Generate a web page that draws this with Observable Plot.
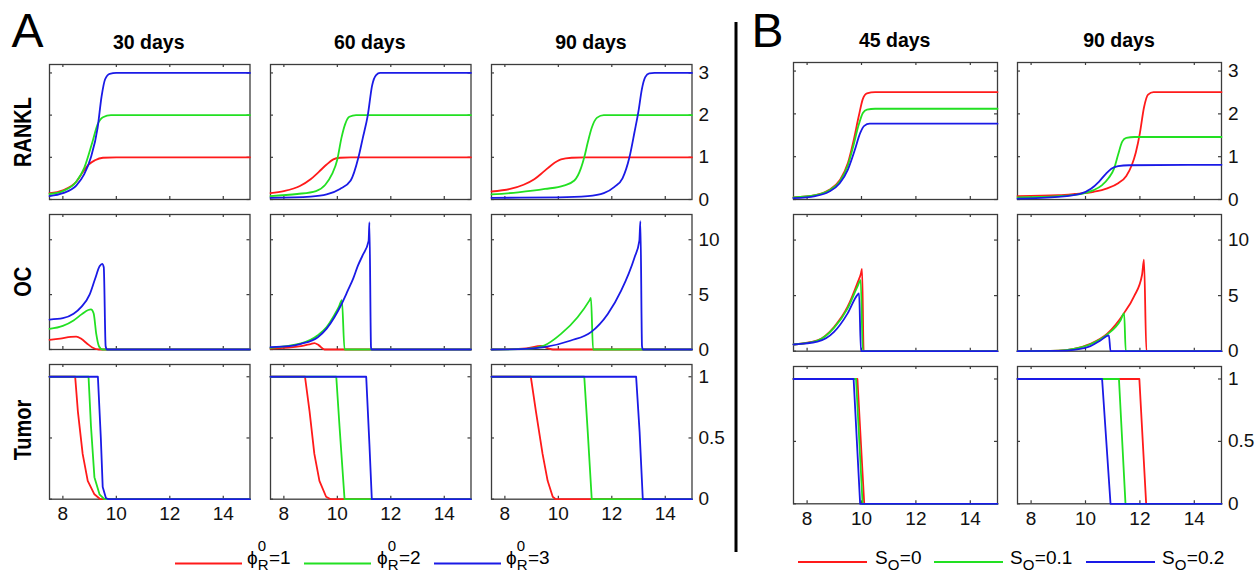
<!DOCTYPE html>
<html><head><meta charset="utf-8">
<script src="https://cdn.jsdelivr.net/npm/d3@7"></script>
<script src="https://cdn.jsdelivr.net/npm/@observablehq/plot@0.6"></script>
<style>
html,body{margin:0;padding:0;background:#fff;}
#wrap{position:relative;width:1258px;height:573px;overflow:hidden;background:#fff;font-family:"Liberation Sans",Arial,sans-serif;}
#wrap svg{position:absolute;overflow:visible;}
</style></head><body><div id="wrap"></div>
<script>
// ---------------- data ----------------
const xDomain = [7.5, 15];
const xTicks = [8, 10, 12, 14];
const rowNames = ["RANKL", "OC", "Tumor"];
const yDomains = [[0, 3.2], [0, 12.3], [0, 1.1]];
const yTickValues = [[0, 1, 2, 3], [0, 5, 10], [0, 0.5, 1]];
const titlesA = ["30 days", "60 days", "90 days"];
const titlesB = ["45 days", "90 days"];
const phiValues = ["1", "2", "3"];
const sOValues = ["0", "0.1", "0.2"];
const seriesColors = ["#ff1a1a", "#22e022", "#1a1ae6"];

// Panel A, 30 days
const A30_RANKL_phi1 = [[7.5,0.15],[8.0,0.22],[8.5,0.42],[8.75,0.65],[8.95,0.82],[9.2,0.93],[9.5,0.99],[10,1.0],[15,1.0]];
const A30_RANKL_phi2 = [[7.5,0.13],[8.0,0.2],[8.5,0.42],[8.8,0.75],[9.1,1.35],[9.3,1.78],[9.5,1.95],[9.8,2.0],[15,2.0]];
const A30_RANKL_phi3 = [[7.5,0.08],[8.0,0.15],[8.5,0.33],[8.8,0.6],[9.05,1.0],[9.3,1.7],[9.45,2.45],[9.58,2.85],[9.75,2.98],[10.0,3.0],[15,3.0]];
const A30_OC_phi1 = [[7.5,0.88],[7.9,1.0],[8.3,1.15],[8.5,1.18],[8.7,0.95],[8.9,0.55],[9.1,0.18],[9.35,0],[15,0]];
const A30_OC_phi2 = [[7.5,1.88],[8.0,2.15],[8.4,2.65],[8.7,3.2],[8.95,3.6],[9.05,3.65],[9.15,3.3],[9.25,1.4],[9.35,0.3],[9.48,0],[15,0]];
const A30_OC_phi3 = [[7.5,2.73],[8.0,2.85],[8.4,3.25],[8.7,3.9],[9.0,5.0],[9.2,6.4],[9.38,7.6],[9.47,7.8],[9.53,7.5],[9.6,0.3],[9.65,0],[15,0]];
const A30_Tumor_phi1 = [[7.5,1],[8.46,1],[8.56,0.72],[8.74,0.37],[8.93,0.15],[9.18,0.04],[9.4,0],[15,0]];
const A30_Tumor_phi2 = [[7.5,1],[8.96,1],[9.05,0.6],[9.18,0.18],[9.37,0.04],[9.55,0],[15,0]];
const A30_Tumor_phi3 = [[7.5,1],[9.31,1],[9.42,0.5],[9.49,0.1],[9.61,0.01],[9.7,0],[15,0]];

// Panel A, 60 days
const A60_RANKL_phi1 = [[7.5,0.15],[8.0,0.2],[8.6,0.32],[9.0,0.48],[9.3,0.65],[9.6,0.83],[9.85,0.95],[10.1,0.99],[10.5,1.0],[15,1.0]];
const A60_RANKL_phi2 = [[7.5,0.08],[8.5,0.13],[9.2,0.2],[9.55,0.35],[9.8,0.6],[10.0,0.95],[10.15,1.45],[10.3,1.8],[10.45,1.96],[10.7,2.0],[15,2.0]];
const A60_RANKL_phi3 = [[7.5,0.04],[9.0,0.07],[9.6,0.12],[10.1,0.25],[10.5,0.45],[10.79,1.0],[10.95,1.45],[11.14,2.0],[11.3,2.7],[11.45,2.95],[11.6,3.0],[15,3.0]];
const A60_OC_phi1 = [[7.5,0.08],[8.64,0.3],[9.0,0.5],[9.14,0.58],[9.3,0.4],[9.52,0],[15,0]];
const A60_OC_phi2 = [[7.5,0.15],[8.64,0.55],[9.27,1.3],[9.6,2.05],[9.89,3.15],[10.05,3.85],[10.17,4.5],[10.27,0],[15,0]];
const A60_OC_phi3 = [[7.5,0.21],[8.2,0.3],[8.64,0.52],[9.27,1.12],[9.6,1.9],[9.89,2.94],[10.15,4.1],[10.39,5.36],[10.6,6.5],[10.77,7.64],[10.95,8.6],[11.17,9.9],[11.2,11.6],[11.26,0.2],[11.28,0],[15,0]];
const A60_Tumor_phi1 = [[7.5,1],[8.79,1],[8.96,0.72],[9.14,0.37],[9.33,0.15],[9.58,0.02],[9.75,0],[15,0]];
const A60_Tumor_phi2 = [[7.5,1],[9.96,1],[10.08,0.6],[10.27,0],[15,0]];
const A60_Tumor_phi3 = [[7.5,1],[11.08,1],[11.2,0.45],[11.29,0],[15,0]];

// Panel A, 90 days
const A90_RANKL_phi1 = [[7.5,0.19],[8.2,0.25],[8.7,0.35],[9.1,0.48],[9.45,0.66],[9.75,0.82],[10.1,0.95],[10.5,0.99],[11,1.0],[15,1.0]];
const A90_RANKL_phi2 = [[7.5,0.12],[8.5,0.17],[9.5,0.25],[10.2,0.33],[10.6,0.45],[10.85,0.75],[10.97,1.0],[11.1,1.35],[11.25,1.7],[11.45,1.94],[11.7,2.0],[15,2.0]];
const A90_RANKL_phi3 = [[7.5,0.04],[10,0.05],[11.1,0.08],[11.7,0.15],[12.1,0.3],[12.4,0.5],[12.66,1.0],[12.85,1.6],[13.0,2.1],[13.12,2.6],[13.25,2.9],[13.4,2.99],[13.6,3.0],[15,3.0]];
const A90_OC_phi1 = [[7.5,0],[8.8,0.1],[9.35,0.33],[9.6,0.12],[9.8,0],[15,0]];
const A90_OC_phi2 = [[7.5,0],[8.8,0.05],[9.47,0.36],[10.1,1.42],[10.72,2.94],[11.16,4.45],[11.22,4.7],[11.3,0],[15,0]];
const A90_OC_phi3 = [[7.5,0],[8.6,0.03],[9.47,0.21],[10.47,0.82],[11.22,1.58],[11.85,3.24],[12.35,5.36],[12.85,8.39],[13.03,9.9],[13.07,11.7],[13.13,0.3],[13.16,0],[15,0]];
const A90_Tumor_phi1 = [[7.5,1],[8.97,1],[9.16,0.72],[9.41,0.37],[9.6,0.15],[9.79,0.02],[9.9,0],[15,0]];
const A90_Tumor_phi2 = [[7.5,1],[10.97,1],[11.1,0.55],[11.25,0],[15,0]];
const A90_Tumor_phi3 = [[7.5,1],[12.91,1],[13.04,0.55],[13.16,0],[15,0]];

// Panel B, 45 days
const B45_RANKL_S0 = [[7.5,0.05],[8.3,0.1],[8.8,0.22],[9.2,0.45],[9.5,0.85],[9.7,1.35],[9.9,1.95],[10.05,2.35],[10.2,2.48],[10.5,2.51],[15,2.51]];
const B45_RANKL_S01 = [[7.5,0.05],[8.3,0.1],[8.8,0.21],[9.2,0.42],[9.5,0.8],[9.7,1.25],[9.9,1.75],[10.05,2.02],[10.2,2.1],[10.5,2.12],[15,2.12]];
const B45_RANKL_S02 = [[7.5,0.03],[8.3,0.08],[8.8,0.18],[9.2,0.38],[9.5,0.7],[9.75,1.15],[9.95,1.55],[10.1,1.72],[10.3,1.77],[15,1.77]];
const B45_OC_S0 = [[7.5,0.6],[8.38,0.97],[8.99,2.18],[9.49,4.0],[9.85,6.13],[9.98,7.0],[10.02,7.4],[10.08,0],[15,0]];
const B45_OC_S01 = [[7.5,0.6],[8.38,0.95],[8.99,2.1],[9.49,3.85],[9.85,5.8],[9.97,6.4],[10.05,0],[15,0]];
const B45_OC_S02 = [[7.5,0.6],[8.38,0.85],[8.99,1.73],[9.49,3.4],[9.85,5.06],[9.91,5.2],[9.98,0],[15,0]];
const B45_Tumor_S0 = [[7.5,1],[9.85,1],[10.1,0],[15,0]];
const B45_Tumor_S01 = [[7.5,1],[9.8,1],[10.04,0],[15,0]];
const B45_Tumor_S02 = [[7.5,1],[9.71,1],[9.95,0],[15,0]];

// Panel B, 90 days
const B90_RANKL_S0 = [[7.5,0.08],[9.0,0.1],[9.6,0.13],[10.3,0.18],[10.8,0.26],[11.2,0.38],[11.5,0.55],[11.7,0.8],[11.85,1.1],[12.0,1.55],[12.15,2.15],[12.3,2.45],[12.5,2.51],[15,2.51]];
const B90_RANKL_S01 = [[7.5,0.05],[9,0.08],[9.9,0.14],[10.3,0.22],[10.6,0.33],[10.85,0.5],[11.05,0.72],[11.2,1.05],[11.35,1.35],[11.5,1.44],[11.8,1.46],[15,1.46]];
const B90_RANKL_S02 = [[7.5,0.02],[9,0.06],[9.8,0.13],[10.2,0.25],[10.5,0.42],[10.75,0.6],[10.95,0.72],[11.2,0.78],[11.6,0.8],[15,0.81]];
const B90_OC_S0 = [[7.5,0],[9.0,0.05],[9.57,0.21],[10.18,0.67],[10.8,1.58],[11.41,3.4],[11.78,4.91],[12.08,6.88],[12.15,8.24],[12.24,0],[15,0]];
const B90_OC_S01 = [[7.5,0],[9.0,0.05],[9.57,0.2],[10.18,0.62],[10.8,1.5],[11.29,2.79],[11.42,3.4],[11.48,0],[15,0]];
const B90_OC_S02 = [[7.5,0],[9.0,0.03],[9.57,0.12],[10.18,0.45],[10.55,0.97],[10.86,1.42],[10.92,0],[15,0]];
const B90_Tumor_S0 = [[7.5,1],[11.98,1],[12.23,0],[15,0]];
const B90_Tumor_S01 = [[7.5,1],[11.23,1],[11.47,0],[15,0]];
const B90_Tumor_S02 = [[7.5,1],[10.61,1],[10.92,0],[15,0]];

const panelsA = [
  [[A30_RANKL_phi1, A30_RANKL_phi2, A30_RANKL_phi3], [A60_RANKL_phi1, A60_RANKL_phi2, A60_RANKL_phi3], [A90_RANKL_phi1, A90_RANKL_phi2, A90_RANKL_phi3]],
  [[A30_OC_phi1, A30_OC_phi2, A30_OC_phi3], [A60_OC_phi1, A60_OC_phi2, A60_OC_phi3], [A90_OC_phi1, A90_OC_phi2, A90_OC_phi3]],
  [[A30_Tumor_phi1, A30_Tumor_phi2, A30_Tumor_phi3], [A60_Tumor_phi1, A60_Tumor_phi2, A60_Tumor_phi3], [A90_Tumor_phi1, A90_Tumor_phi2, A90_Tumor_phi3]]
];
const panelsB = [
  [[B45_RANKL_S0, B45_RANKL_S01, B45_RANKL_S02], [B90_RANKL_S0, B90_RANKL_S01, B90_RANKL_S02]],
  [[B45_OC_S0, B45_OC_S01, B45_OC_S02], [B90_OC_S0, B90_OC_S01, B90_OC_S02]],
  [[B45_Tumor_S0, B45_Tumor_S01, B45_Tumor_S02], [B90_Tumor_S0, B90_Tumor_S01, B90_Tumor_S02]]
];

// ---------------- layout ----------------
const colLeftA = [48.5, 269.5, 490.7], colWA = 200.5;
const colLeftB = [792.7, 1017], colWB = 204;
const rowTopA = [64, 214, 364], rowHA = [135, 135, 134.7];
const rowTopB = [62, 214, 365.7], rowHB = [137, 136.7, 137.3];
const frameColor = "#3c3c3c";
const wrap = document.getElementById("wrap");

function panel(left, top, w, h, row, seriesList, showX, showY) {
  const ml = 2, mt = 2, mr = showY ? 48 : 2, mb = showX ? 34 : 2;
  const yT = yTickValues[row];
  const curve = row === 2 ? "linear" : "monotone-x";
  const marks = [
    Plot.frame({stroke: frameColor, strokeWidth: 1.3}),
    Plot.ruleX(xTicks, {x: d => d, insetTop: h - 3, stroke: frameColor, strokeWidth: 1.2}),
    Plot.ruleX(xTicks, {x: d => d, insetBottom: h - 3, stroke: frameColor, strokeWidth: 1.2}),
    Plot.ruleY(yT, {y: d => d, insetRight: w - 3, stroke: frameColor, strokeWidth: 1.2}),
    Plot.ruleY(yT, {y: d => d, insetLeft: w - 3, stroke: frameColor, strokeWidth: 1.2}),
    ...seriesList.map((s, i) => Plot.line(s, {x: d => d[0], y: d => d[1], stroke: seriesColors[i], strokeWidth: 1.8, curve}))
  ];
  if (showX) marks.push(Plot.text(xTicks, {x: d => d, frameAnchor: "bottom", dy: 21, text: d => String(d), fontSize: 19, fill: "#111"}));
  if (showY) marks.push(Plot.text(yT, {y: d => d, frameAnchor: "right", dx: 6.5, textAnchor: "start", text: d => String(d), fontSize: 19, fill: "#111"}));
  const svg = Plot.plot({
    width: w + ml + mr, height: h + mt + mb,
    marginLeft: ml, marginRight: mr, marginTop: mt, marginBottom: mb,
    x: {domain: xDomain, axis: null},
    y: {domain: yDomains[row], axis: null},
    style: {fontFamily: "Liberation Sans, Arial, sans-serif", background: "transparent", overflow: "visible"},
    marks
  });
  svg.style.position = "absolute";
  svg.style.left = (left - ml) + "px";
  svg.style.top = (top - mt) + "px";
  wrap.appendChild(svg);
}

for (let r = 0; r < 3; r++) {
  for (let c = 0; c < 3; c++) panel(colLeftA[c], rowTopA[r], colWA, rowHA[r], r, panelsA[r][c], r === 2, c === 2);
  for (let c = 0; c < 2; c++) panel(colLeftB[c], rowTopB[r], colWB, rowHB[r], r, panelsB[r][c], r === 2, c === 1);
}

// ---------------- overlay texts ----------------
const ov = d3.select(wrap).append("svg").attr("width", 1258).attr("height", 573)
  .style("left", "0px").style("top", "0px")
  .attr("font-family", "Liberation Sans, Arial, sans-serif").attr("fill", "#000");

ov.append("text").attr("x", 11.5).attr("y", 46.7).attr("font-size", 48).text("A");
ov.append("text").attr("x", 751.5).attr("y", 46.7).attr("font-size", 48).text("B");
titlesA.forEach((t, i) => ov.append("text").attr("x", colLeftA[i] + colWA / 2).attr("y", 48.5)
  .attr("text-anchor", "middle").attr("font-weight", "bold").attr("font-size", 19.5).text(t));
titlesB.forEach((t, i) => ov.append("text").attr("x", colLeftB[i] + colWB / 2).attr("y", 47)
  .attr("text-anchor", "middle").attr("font-weight", "bold").attr("font-size", 19.5).text(t));
const rowCenters = [132, 281.7, 430];
rowNames.forEach((n, i) => ov.append("text")
  .attr("transform", `translate(30.5,${rowCenters[i]}) rotate(-90) scale(0.87,1)`)
  .attr("text-anchor", "middle").attr("font-weight", "bold").attr("font-size", 23).text(n));

ov.append("line").attr("x1", 736).attr("x2", 736).attr("y1", 22).attr("y2", 552)
  .attr("stroke", "#000").attr("stroke-width", 3);

function legendItem(x1, x2, ly, textX, base, sup, sub, tail, color, baseY) {
  ov.append("line").attr("x1", x1).attr("x2", x2).attr("y1", ly).attr("y2", ly)
    .attr("stroke", color).attr("stroke-width", 2);
  const t = ov.append("text").attr("x", textX).attr("y", baseY).attr("font-size", 19).text(base);
  const x = textX + t.node().getComputedTextLength();
  let w = 0;
  if (sup) {
    const s = ov.append("text").attr("x", x).attr("y", baseY - 13).attr("font-size", 15).text(sup);
    w = Math.max(w, s.node().getComputedTextLength());
  }
  if (sub) {
    const s = ov.append("text").attr("x", x).attr("y", baseY + 6.5).attr("font-size", 15).text(sub);
    w = Math.max(w, s.node().getComputedTextLength());
  }
  ov.append("text").attr("x", x + w + 0.5).attr("y", baseY).attr("font-size", 19).text(tail);
}
const legAx = [[175, 242, 247], [304, 371, 377], [434, 501, 506]];
phiValues.forEach((v, i) => legendItem(legAx[i][0], legAx[i][1], 563.5, legAx[i][2], "ϕ", "0", "R", "=" + v, seriesColors[i], 563.5));
const legBx = [[798, 867, 875], [934, 1003, 1010], [1086, 1155, 1162]];
sOValues.forEach((v, i) => legendItem(legBx[i][0], legBx[i][1], 562, legBx[i][2], "S", null, "O", "=" + v, seriesColors[i], 563.5));
</script></body></html>
